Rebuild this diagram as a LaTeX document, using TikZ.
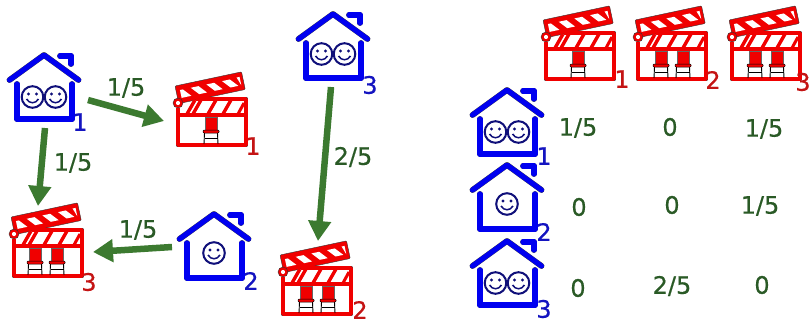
\documentclass[tikz,border=0pt]{standalone}
\usepackage{fontspec}
\setmainfont{DejaVu Sans}
\newfontfamily\labelfont[FakeBold=0.5]{DejaVu Sans}
\usepackage{xcolor}
\usetikzlibrary{arrows.meta,calc}
\definecolor{cHouse}{HTML}{0000F0}
\definecolor{cFace}{HTML}{10107A}
\definecolor{cMovie}{HTML}{F00000}
\definecolor{cFlow}{HTML}{3C7A30}
\definecolor{cRate}{HTML}{2A5A26}
\definecolor{cHno}{HTML}{1414C0}
\definecolor{cMno}{HTML}{C41414}
\tikzset{
  hline/.style={draw=black!75, double=cHouse, double distance=5.2pt, line width=.3pt,
                line cap=round, line join=round},
  mline/.style={draw=black!80, double=cMovie, double distance=3.8pt, line width=.4pt,
                line join=round},
  smiley/.pic={
    \draw[cFace, line width=2pt, fill=white] (0,0) circle (10.8);
    \fill[cFace] (-4,-3) circle (1.7) (4,-3) circle (1.7);
    \draw[cFace, line width=1.5pt] (-6,2) .. controls (-3,7) and (3,7) .. (6,2);
  },
  shell/.pic={
    \draw[hline] (-34.5,25) -- (0,0) -- (34.5,25);
    \draw[hline] (16,1) -- (27,1) -- (27,9);
    \draw[hline] (-27,29) -- (-27,64) -- (28,64) -- (28,29);
  },
  chair/.pic={
    \fill[cMovie, draw=black!60, line width=.2pt] (-6,18) rectangle (6,31);
    \foreach \s in {-1,1}
      \draw[black, line width=.9pt] (\s*6.5,34) -- (\s*7,45);
    \draw[black, line width=.9pt] (-6.5,39) -- (6.5,39);
    \fill[cMovie, draw=black, line width=.5pt, rounded corners=1pt] (-8,31) rectangle (8,34);
  },
  movie/.pic={
    % --- arm ---
    \begin{scope}[shift={(-3,-13)}, rotate=12]
      \fill[cMovie, draw=black!80, line width=.4pt, rounded corners=1pt] (0,0) rectangle (68,18);
      \fill[white] (4,5) -- (7,5) -- (14,13) -- (4,13) -- cycle;
      \foreach \u in {15,31,47}
        \fill[white] (\u,5) -- (\u+8,5) -- (\u+15,13) -- (\u+7,13) -- cycle;
      \fill[white] (62,4.5) -- (65,4.5) -- (65,13) -- cycle;
    \end{scope}
    \draw[draw=black!80, fill=cMovie, line width=.4pt] (0,4) circle (5);
    \fill[white] (0,4) circle (2.1);
    % --- body ---
    \foreach \u in {6,21,36}
      \fill[white] (\u+6,3) -- (\u+14,3) -- (\u+8,14) -- (\u,14) -- cycle;
    \fill[white] (60,3) -- (65,3) -- (65,14) -- (54,14) -- cycle;
    \draw[mline] (18,0) -- (68,0) -- (68,46) -- (0,46) -- (0,9);
    \draw[cMovie, line width=3.6pt] (2,16) -- (66,16);
    \foreach \u in {18,33,48}
      \draw[cMovie, line width=3.4pt] (\u+5,1) -- (\u-3,15);
    \draw[cMovie, line width=3.4pt] (9,15) -- (17,1);
    \draw[cMovie, line width=3pt] (60,15) -- (66,4);
    \foreach \c in {#1}
      \pic at (\c,0) {chair};
  },
  rate/.style={font=\labelfont\fontsize{24}{24}\selectfont, text=cRate, inner sep=0pt},
  hno/.style={font=\labelfont\fontsize{24}{24}\selectfont, text=cHno, inner sep=0pt},
  mno/.style={font=\labelfont\fontsize{24}{24}\selectfont, text=cMno, inner sep=0pt},
  flow/.style={-{Triangle[length=20pt,width=22pt]}, line width=6.5pt, draw=cFlow}
}

\begin{document}
\begin{tikzpicture}[x=1pt, y=-1pt]
\useasboundingbox (0,0) rectangle (812,322);

% --- graph: houses ---
\pic at (44,55) {shell};
\pic at (32.5,97) {smiley};
\pic at (55.5,97) {smiley};
\node[hno] (hA) at (80,122) {1};
\pic at (214,214) {shell};
\pic at (214,253) {smiley};
\node[hno] (hB) at (251,281) {2};
\pic at (333,14) {shell};
\pic at (321.5,54) {smiley};
\pic at (344.5,54) {smiley};
\node[hno] (hC) at (370,85) {3};

% --- graph: movies ---
\pic at (178,99) {movie={33}};
\node[mno] (mA) at (253,146) {1};
\pic at (283,268) {movie={23,45}};
\node[mno] (mB) at (360,310) {2};
\pic at (14,230) {movie={21,43}};
\node[mno] (mC) at (89,282) {3};

% --- graph: arrows ---
\coordinate (ab) at (88,100);
\coordinate (ae) at (164,121);
\coordinate (bb) at (45,128);
\coordinate (be) at (38,206);
\coordinate (cb) at (172,247);
\coordinate (ce) at (93,252);
\coordinate (db) at (331,87);
\coordinate (de) at (318,241);
\draw[flow] (ab) -- (ae);
\draw[flow] (bb) -- (be);
\draw[flow] (cb) -- (ce);
\draw[flow] (db) -- (de);
\node[rate] (fa) at (126,88) {1/5};
\node[rate] (fb) at (73,163) {1/5};
\node[rate] (fc) at (138,230) {1/5};
\node[rate] (fd) at (353,157) {2/5};

% --- table: movie header ---
\pic at (546,33) {movie={32}};
\node[mno] (tm1) at (622,79) {1};
\pic at (638,33) {movie={23,45}};
\node[mno] (tm2) at (713,80) {2};
\pic at (732,33) {movie={23,45}};
\node[mno] (tm3) at (803,82) {3};

% --- table: house column ---
\pic at (507,90) {shell};
\pic at (495.5,132) {smiley};
\pic at (518.5,132) {smiley};
\node[hno] (th1) at (544,156) {1};
\pic at (507,165) {shell};
\pic at (507,204) {smiley};
\node[hno] (th2) at (544,232) {2};
\pic at (507,241) {shell};
\pic at (495.5,283) {smiley};
\pic at (518.5,283) {smiley};
\node[hno] (th3) at (544,309) {3};

% --- table: values ---
\node[rate] (v11) at (578,128) {1/5};
\node[rate] (v12) at (670,127) {0};
\node[rate] (v13) at (764,129) {1/5};
\node[rate] (v21) at (579,207) {0};
\node[rate] (v22) at (672,205) {0};
\node[rate] (v23) at (760,206) {1/5};
\node[rate] (v31) at (578,288) {0};
\node[rate] (v32) at (672,286) {2/5};
\node[rate] (v33) at (762,285) {0};

\end{tikzpicture}
\end{document}
